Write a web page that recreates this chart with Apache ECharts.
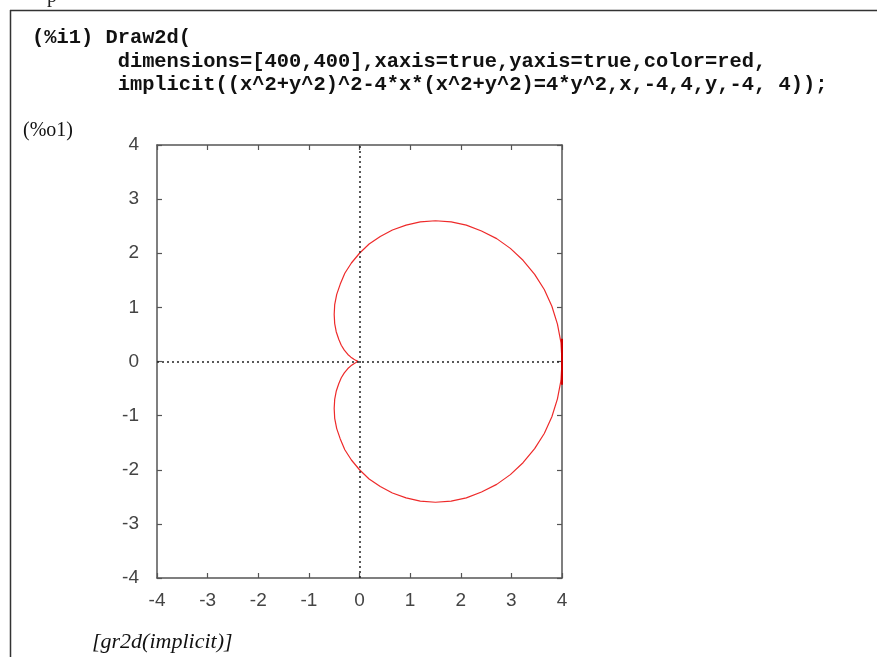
<!DOCTYPE html>
<html>
<head>
<meta charset="utf-8">
<script src="https://cdn.jsdelivr.net/npm/echarts@6/dist/echarts.min.js"></script>
<style>html,body{margin:0;padding:0;background:#fff}#c{width:877px;height:657px}</style>
</head>
<body>
<div id="c"></div>
<script>
// Tick values
var xTicks = [-4, -3, -2, -1, 0, 1, 2, 3, 4];
var yTicks = [-4, -3, -2, -1, 0, 1, 2, 3, 4];
// Curve points (upper lobe then lower lobe)
var curveX = [4.00, 3.98, 3.91, 3.80, 3.65, 3.46, 3.23, 2.98, 2.71, 2.41, 2.11, 1.81, 1.50, 1.20, 0.92, 0.65, 0.41, 0.19, 0.00,
  -0.16, -0.29, -0.38, -0.45, -0.49, -0.50, -0.49, -0.46, -0.41, -0.36, -0.30, -0.23, -0.17, -0.11, -0.07, -0.03, 0.00,
  -0.03, -0.07, -0.11, -0.17, -0.23, -0.30, -0.36, -0.41, -0.46, -0.49, -0.50, -0.49, -0.45, -0.38, -0.29, -0.16,
  0.00, 0.19, 0.41, 0.65, 0.92, 1.20, 1.50, 1.81, 2.11, 2.41, 2.71, 2.98, 3.23, 3.46, 3.65, 3.80, 3.91, 3.98, 4.00];
var curveY = [0.00, 0.35, 0.69, 1.02, 1.33, 1.61, 1.87, 2.09, 2.27, 2.41, 2.52, 2.58, 2.60, 2.58, 2.52, 2.43, 2.31, 2.17, 2.00,
  1.82, 1.63, 1.43, 1.24, 1.05, 0.87, 0.70, 0.55, 0.41, 0.30, 0.21, 0.13, 0.08, 0.04, 0.02, 0.005, 0.00,
  -0.005, -0.02, -0.04, -0.08, -0.13, -0.21, -0.30, -0.41, -0.55, -0.70, -0.87, -1.05, -1.24, -1.43, -1.63, -1.82,
  -2.00, -2.17, -2.31, -2.43, -2.52, -2.58, -2.60, -2.58, -2.52, -2.41, -2.27, -2.09, -1.87, -1.61, -1.33, -1.02, -0.69, -0.35, 0.00];
// Short segment drawn on the right border near y=0
var edgeX = [4, 4];
var edgeY = [0.42, -0.43];

var codeLines = [
  '(%i1) Draw2d(',
  '       dimensions=[400,400],xaxis=true,yaxis=true,color=red,',
  '       implicit((x^2+y^2)^2-4*x*(x^2+y^2)=4*y^2,x,-4,4,y,-4, 4));'
];
var outLabel = '(%o1)';
var resultLabel = '[gr2d(implicit)]';

var curve = curveX.map(function (v, i) { return [v, curveY[i]]; });
var edge = edgeX.map(function (v, i) { return [v, edgeY[i]]; });

var chart = echarts.init(document.getElementById('c'), null, {renderer: 'canvas'});
var frameColor = '#555';
var labelStyle = {color: '#444', fontSize: 19, fontFamily: 'Liberation Sans, Arial, sans-serif'};

function mkAxis(pos, show) {
  return {
    type: 'value', min: -4, max: 4, interval: 1, position: pos,
    axisLine: {show: true, onZero: false, lineStyle: {color: frameColor, width: 1.5}},
    axisTick: {show: true, inside: true, length: 5, lineStyle: {color: frameColor, width: 1.2}},
    axisLabel: show ? Object.assign({show: true, margin: pos === 'bottom' ? 13 : 18}, labelStyle) : {show: false},
    splitLine: {show: false}
  };
}

var xa1 = mkAxis('bottom', true), xa2 = mkAxis('top', false);
var ya1 = mkAxis('left', true), ya2 = mkAxis('right', false);

var graphics = [
  {type: 'line', shape: {x1: 10.5, y1: 10, x2: 10.5, y2: 657}, style: {stroke: '#333', lineWidth: 1.5}},
  {type: 'line', shape: {x1: 10, y1: 10.5, x2: 877, y2: 10.5}, style: {stroke: '#333', lineWidth: 1.5}},
  {type: 'text', left: 47, top: -13, style: {text: 'p', fontSize: 20, fontFamily: 'Liberation Serif, serif', fill: '#222'}},
  {type: 'text', left: 23, top: 121, style: {text: outLabel, fontSize: 20, fontFamily: 'Liberation Serif, serif', fill: '#111'}},
  {type: 'text', left: 92, top: 631, style: {text: resultLabel, fontSize: 22, fontStyle: 'italic', fontFamily: 'Liberation Serif, serif', fill: '#111'}}
];
var codeTops = [28, 52, 75];
codeLines.forEach(function (t, i) {
  graphics.push({type: 'text', left: 32, top: codeTops[i], style: {text: t, fontSize: 20.4, fontWeight: 'bold', fontFamily: 'Liberation Mono, monospace', fill: '#111'}});
});

chart.setOption({
  animation: false,
  backgroundColor: '#fff',
  grid: {left: 157, right: 315, top: 145, bottom: 79, containLabel: false},
  xAxis: [xa1, xa2],
  yAxis: [ya1, ya2],
  graphic: graphics,
  series: [
    {
      type: 'line', data: curve, showSymbol: false, smooth: false, z: 3,
      lineStyle: {color: '#ee2a2a', width: 1.2},
      markLine: {
        silent: true, symbol: 'none', label: {show: false},
        lineStyle: {color: '#222', type: [2, 3], width: 1.5},
        data: [{xAxis: 0}, {yAxis: 0}]
      }
    },
    {
      type: 'line', data: edge, showSymbol: false, z: 4,
      lineStyle: {color: '#cc0000', width: 2}
    }
  ]
});
</script>
</body>
</html>
